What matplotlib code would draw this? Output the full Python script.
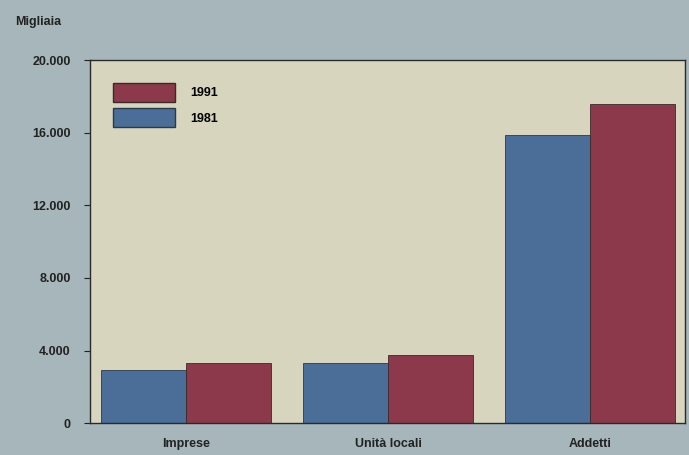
#!/usr/bin/env python3
"""Imprese, unità locali e addetti: 1981 vs 1991 (migliaia)."""
import matplotlib

matplotlib.use("Agg")
import matplotlib.pyplot as plt
import numpy as np
from matplotlib.patches import Patch
from matplotlib.ticker import FuncFormatter

CATEGORIES = ["Imprese", "Unità locali", "Addetti"]
VALUES_1981 = [2950, 3300, 15850]
VALUES_1991 = [3300, 3750, 17600]
YTICKS = [0, 4000, 8000, 12000, 16000, 20000]

BLUE = "#4a6e98"
RED = "#8c3a4b"
FIG_BG = "#a6b6bb"
AX_BG = "#d7d5be"

plt.rcParams.update({"font.family": "Liberation Sans", "font.weight": "bold"})

fig = plt.figure(figsize=(6.89, 4.55), dpi=100, facecolor=FIG_BG)
ax = fig.add_axes([0.131, 0.070, 0.863, 0.798], facecolor=AX_BG)

x = np.arange(len(CATEGORIES))
w = 0.42
ax.bar(x - w / 2, VALUES_1981, w, color=BLUE, edgecolor="#2a3a4a", linewidth=0.6)
ax.bar(x + w / 2, VALUES_1991, w, color=RED, edgecolor="#3a2a2a", linewidth=0.6)

ax.set_xlim(-0.475, 2.47)
ax.set_ylim(0, 20000)
ax.set_yticks(YTICKS)
ax.yaxis.set_major_formatter(FuncFormatter(lambda v, _: f"{int(v):,}".replace(",", ".")))
ax.set_xticks(x)
ax.set_xticklabels(CATEGORIES)
ax.tick_params(axis="y", length=4, width=0.8, labelsize=9, colors="#222222", pad=10)
ax.tick_params(axis="x", length=0, labelsize=9, colors="#222222", pad=11)
for s in ax.spines.values():
    s.set_color("#2a2a2a")
    s.set_linewidth(1.0)

handles = [Patch(facecolor=RED, edgecolor="#3a2a2a"), Patch(facecolor=BLUE, edgecolor="#2a3a4a")]
ax.legend(handles, ["1991", "1981"], loc="upper left", frameon=False, fontsize=9,
          handlelength=5.0, handleheight=2.0, borderaxespad=1.4, labelspacing=0.5,
          handletextpad=1.2)

fig.text(0.022, 0.945, "Migliaia", fontsize=9, fontweight="bold", color="#222222")

fig.savefig("out.png", dpi=100, facecolor=FIG_BG)
